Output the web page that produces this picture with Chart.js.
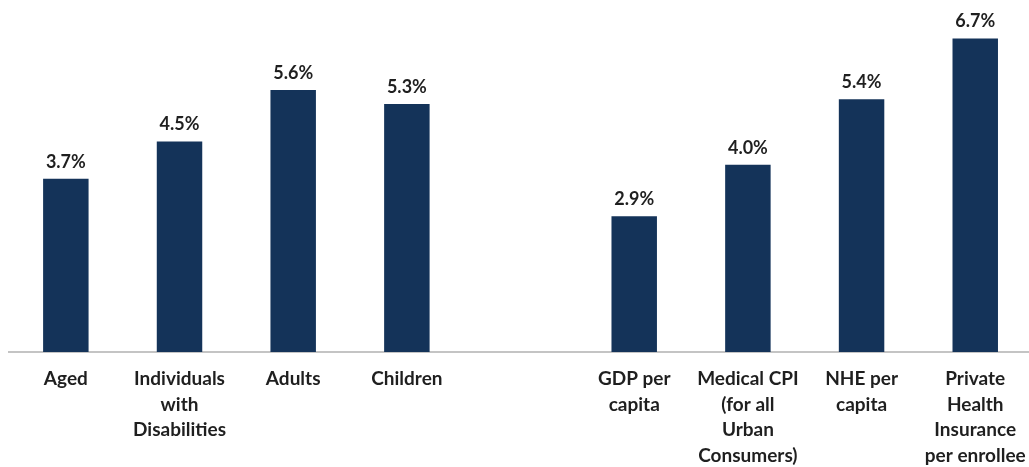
<!Doctype html>
<html>
<head>
    <meta content="text/html;charset=utf-8" http-equiv="Content-Type">
    <title>Average Annual Growth</title>
    <script src="https://cdn.jsdelivr.net/npm/chart.js@4.4.0/dist/chart.umd.min.js"></script>
<style>
    body {
        margin: 0;
        background-color: #fff;
        overflow: hidden;
    }
    .chart_box {
        position: relative;
        width: 1040px;
        height: 467px;
    }
</style>
</head>
<body>
    <div class="chart_box">
        <canvas id="growth"></canvas>
    </div>

<script>
    // categories, the empty one makes the gap between the two groups
    var categories = [
        'Aged',
        ['Individuals', 'with', 'Disabilities'],
        'Adults',
        'Children',
        '',
        ['GDP per', 'capita'],
        ['Medical CPI', '(for all', 'Urban', 'Consumers)'],
        ['NHE per', 'capita'],
        ['Private', 'Health', 'Insurance', 'per enrollee']
    ];
    var growth_rates = [3.7, 4.5, 5.6, 5.3, null, 2.9, 4.0, 5.4, 6.7];

    var bar_colour = '#143359';
    var text_colour = '#1f1f1f';

    // writes the percentage above every bar
    var valueLabels = {
        id: 'valueLabels',
        afterDatasetsDraw: function(chart) {
            var ctx = chart.ctx;
            var meta = chart.getDatasetMeta(0);
            ctx.save();
            ctx.font = 'bold 18px Lato';
            ctx.fillStyle = text_colour;
            ctx.textAlign = 'center';
            ctx.textBaseline = 'alphabetic';
            meta.data.forEach(function(bar, i) {
                var v = growth_rates[i];
                if (v === null) return;
                ctx.fillText(v.toFixed(1) + '%', bar.x, bar.y - 11);
            });
            ctx.restore();
        }
    };

    var ctx = document.getElementById('growth').getContext('2d');
    var growthChart = new Chart(ctx, {
        type: 'bar',
        data: {
            labels: categories,
            datasets: [{
                data: growth_rates,
                backgroundColor: bar_colour,
                barPercentage: 0.4,
                categoryPercentage: 1.0
            }]
        },
        options: {
            responsive: true,
            maintainAspectRatio: false,
            animation: false,
            layout: {padding: {top: 1, left: 9, right: 5, bottom: 0}},
            plugins: {legend: {display: false}, tooltip: {enabled: false}},
            scales: {
                y: {display: false, min: 0, max: 7.5},
                x: {
                    grid: {display: false, drawTicks: false},
                    border: {display: true, color: '#c4c4c4', width: 2},
                    ticks: {
                        color: text_colour,
                        font: {family: 'Lato', weight: 'bold', size: 19, lineHeight: 1.35},
                        padding: 14,
                        maxRotation: 0,
                        autoSkip: false
                    },
                    afterFit: function(scale) { scale.height = 115; }
                }
            }
        },
        plugins: [valueLabels]
    });
</script>
</body>
</html>
